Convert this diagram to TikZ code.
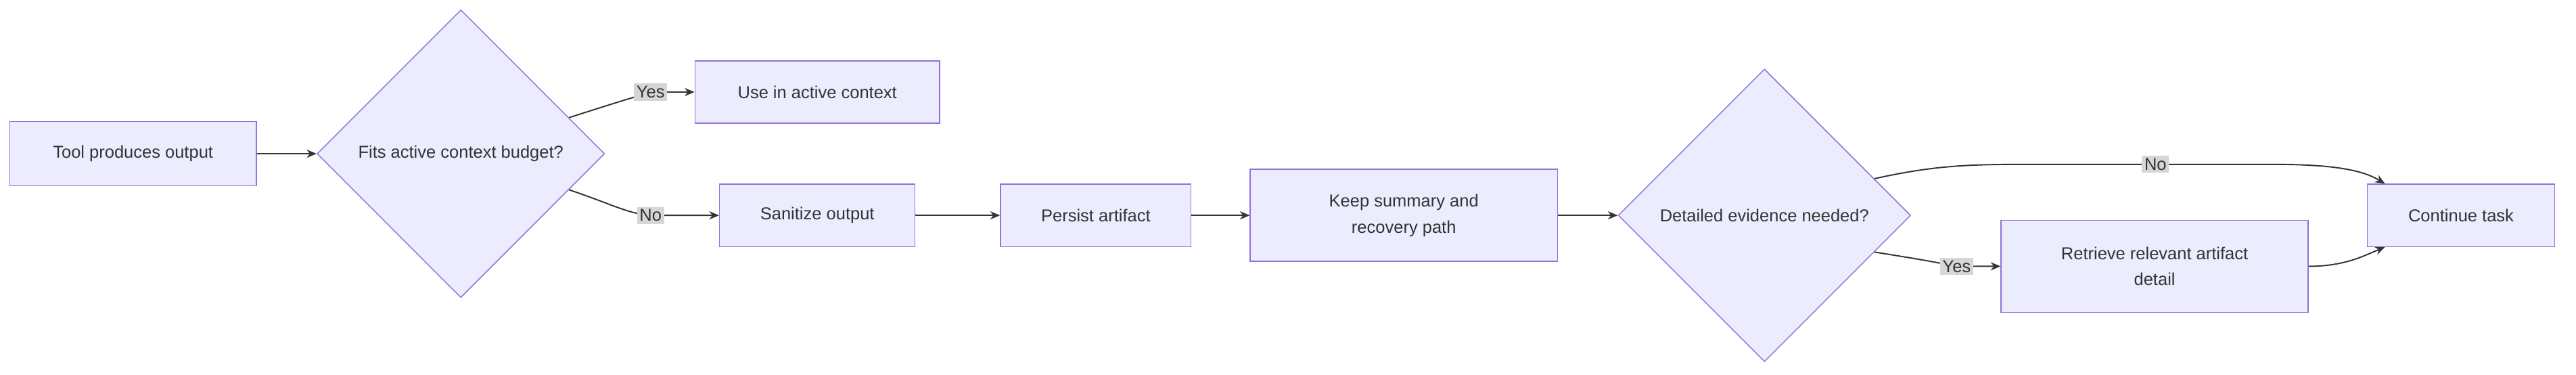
\documentclass[tikz,border=0pt]{standalone}
\usepackage{fontspec}
\setmainfont{Liberation Sans}
\usetikzlibrary{shapes.geometric,arrows.meta,calc}
\definecolor{nfill}{HTML}{ECECFF}
\definecolor{nline}{HTML}{9370DB}
\definecolor{txt}{HTML}{333333}
\definecolor{lbg}{HTML}{D6D6D6}
\begin{document}
\begin{tikzpicture}[x=1pt,y=-1pt,
  font=\fontsize{10.5}{16}\selectfont, text=txt,
  box/.style={draw=nline,fill=nfill,line width=0.6pt,inner sep=0,align=center},
  dia/.style={diamond,draw=nline,fill=nfill,line width=0.6pt,inner sep=0,minimum width=#1,minimum height=#1,aspect=1},
  e/.style={draw=txt,line width=0.8pt,-{Stealth[length=6pt,width=5pt]}},
  lbl/.style={fill=lbg,inner sep=1.5pt,text=txt}]
\useasboundingbox (0,0) rectangle (1568,228);
\node[box,minimum width=150,minimum height=39] (A) at (81,93.5) {Tool produces output};
\node[dia=175] (B) at (280.5,93.5) {Fits active context budget?};
\node[box,minimum width=149,minimum height=38] (C) at (497.5,56) {Use in active context};
\node[box,minimum width=119,minimum height=38] (D) at (497.5,131) {Sanitize output};
\node[box,minimum width=116,minimum height=38] (E) at (667,131) {Persist artifact};
\node[box,minimum width=187,minimum height=56] (F) at (854.5,131) {Keep summary and\\recovery path};
\node[dia=178] (G) at (1074,131) {Detailed evidence needed?};
\node[box,minimum width=187,minimum height=56] (H) at (1311.5,162) {Retrieve relevant artifact\\detail};
\node[box,minimum width=114,minimum height=38] (I) at (1498,131) {Continue task};

\coordinate (b1) at ($(B.east)!0.25!(B.north)$);
\coordinate (b2) at ($(B.east)!0.25!(B.south)$);
\coordinate (g1) at ($(G.east)!0.25!(G.north)$);
\coordinate (g2) at ($(G.east)!0.25!(G.south)$);
\coordinate (ly) at (396,56);
\coordinate (ln) at (396,131);
\coordinate (gn) at (1312,100);
\coordinate (gy) at (1191,162);

\draw[e] (A) -- (B);
\draw[e] (b1) .. controls (370,64) .. (ly) -- (C.west);
\draw[e] (b2) .. controls (372,124) and (382,130) .. (ln) -- (D.west);
\draw[e] (D) -- (E);
\draw[e] (E) -- (F);
\draw[e] (F) -- (G);
\draw[e] (g1) .. controls (1185,99) and (1205,100) .. (1260,100) -- (1385,100) .. controls (1430,100) and (1442,106) .. ([xshift=11pt]I.north west);
\draw[e] (g2) .. controls (1170,158) .. (gy) -- (H.west);
\draw[e] (H.east) .. controls (1428,162) and (1440,155) .. ([xshift=11pt]I.south west);

\node[lbl] (lyes) at (ly) {Yes};
\node[lbl] (lno) at (ln) {No};
\node[lbl] (gno) at (gn) {No};
\node[lbl] (gyes) at (gy) {Yes};
\end{tikzpicture}
\end{document}
